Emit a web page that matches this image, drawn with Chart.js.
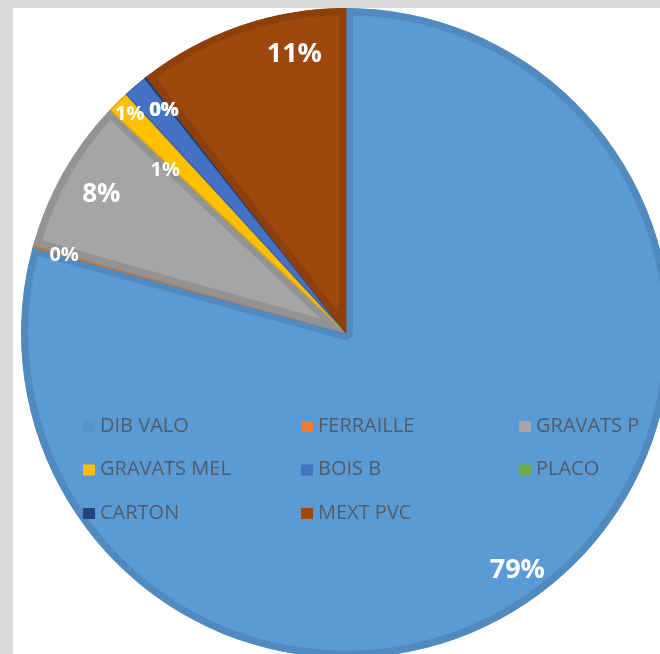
<!DOCTYPE html>
<html>
<head>
<meta charset="utf-8">
<script src="https://cdn.jsdelivr.net/npm/chart.js@4.4.0/dist/chart.umd.min.js"></script>
<style>
html, body { margin:0; padding:0; width:660px; height:654px; overflow:hidden; background:#d9d9d9; }
#panel { position:absolute; left:13px; top:8px; right:0; bottom:0; background:#fff; }
#wrap { position:absolute; left:0; top:0; width:692px; height:666px; }
</style>
</head>
<body>
<div id="panel"></div>
<div id="wrap"><canvas id="pie"></canvas></div>
<script>
// data (share of total, %)
const labels = ['DIB VALO', 'FERRAILLE', 'GRAVATS P', 'GRAVATS MEL', 'BOIS B', 'PLACO', 'CARTON', 'MEXT PVC'];
const values = [79.25, 0.1, 7.7, 1.1, 1.2, 0, 0.1, 10.55];
const colors = ['#5b9bd5', '#ed7d31', '#a5a5a5', '#ffc000', '#4472c4', '#70ad47', '#264478', '#9e480e'];

// label placement tweaks (angle nudge in degrees, radius fraction, font size)
const lblNudge = [1.5, 0, 0, 0, -7.5, -1, -1, 8.5];
const lblRad = [0.90, 0.90, 0.865, 0.947, 0.748, 0.885, 0.885, 0.873];
const lblSize = [27, 20, 26, 20, 20, 20, 20, 27];

function darken(hex, f){
  var n = parseInt(hex.slice(1), 16);
  var r = Math.round(((n >> 16) & 255) * f);
  var g = Math.round(((n >> 8) & 255) * f);
  var b = Math.round((n & 255) * f);
  return 'rgb(' + r + ',' + g + ',' + b + ')';
}

const edges = colors.map(function(c){ return darken(c, 0.89); });
const total = values.reduce(function(a, b){ return a + b; }, 0);

const pctLabels = {
  id: 'pctLabels',
  afterDatasetsDraw(chart){
    const ctx = chart.ctx;
    const meta = chart.getDatasetMeta(0);
    ctx.save();
    ctx.fillStyle = '#ffffff';
    ctx.textAlign = 'center';
    ctx.textBaseline = 'middle';
    meta.data.forEach(function(arc, i){
      const p = arc.getProps(['x', 'y', 'startAngle', 'endAngle', 'outerRadius'], true);
      const a = (p.startAngle + p.endAngle) / 2 + lblNudge[i] * Math.PI / 180;
      const r = p.outerRadius * lblRad[i];
      ctx.font = 'bold ' + lblSize[i] + 'px "Open Sans"';
      ctx.fillText(Math.round(values[i] / total * 100) + '%', p.x + Math.cos(a) * r, p.y + Math.sin(a) * r);
    });
    ctx.restore();
  }
};

// legend sits on top of the pie, 3 columns
const overLegend = {
  id: 'overLegend',
  afterDraw(chart){
    const ctx = chart.ctx;
    ctx.save();
    ctx.font = '20px "Open Sans"';
    ctx.textBaseline = 'middle';
    labels.forEach(function(l, i){
      const x = 83 + (i % 3) * 218;
      const y = 426 + Math.floor(i / 3) * 43.5;
      ctx.fillStyle = i == 0 ? darken(colors[i], 0.95) : colors[i];
      ctx.fillRect(x, y - 5, 12, 11);
      ctx.fillStyle = '#515c6a';
      ctx.fillText(l, x + 17, y);
    });
    ctx.restore();
  }
};

const chart = new Chart('pie', {
  type: 'pie',
  data: {
    labels: labels,
    datasets: [{
      data: values,
      backgroundColor: colors,
      borderColor: edges,
      borderWidth: [7, 1, 7, 1, 1, 1, 1, 7],
      borderAlign: 'inner'
    }]
  },
  options: {
    responsive: true,
    maintainAspectRatio: false,
    animation: false,
    layout: { padding: { top: 8, bottom: 8 } },
    plugins: {
      legend: { display: false },
      tooltip: { enabled: false }
    }
  },
  plugins: [pctLabels, overLegend]
});
</script>
</body>
</html>
